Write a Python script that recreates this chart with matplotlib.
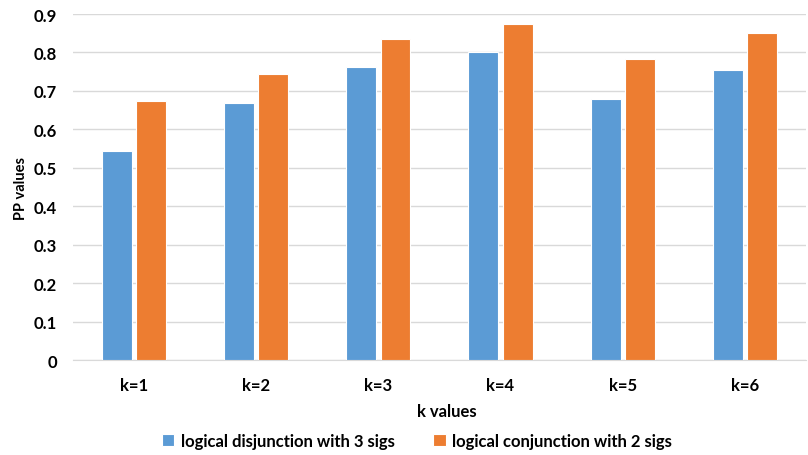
import matplotlib
matplotlib.use("Agg")
import matplotlib.pyplot as plt
import numpy as np

categories = ["k=1", "k=2", "k=3", "k=4", "k=5", "k=6"]
disjunction_3 = [0.545, 0.669, 0.763, 0.802, 0.680, 0.755]
conjunction_2 = [0.675, 0.745, 0.834, 0.875, 0.784, 0.850]
series_names = ["logical disjunction with 3 sigs", "logical conjunction with 2 sigs"]
y_ticks = [0, 0.1, 0.2, 0.3, 0.4, 0.5, 0.6, 0.7, 0.8, 0.9]

plt.rcParams['font.family'] = ['Lato', 'DejaVu Sans']
plt.rcParams['font.weight'] = 'bold'

fig = plt.figure(figsize=(8.08, 4.56), dpi=100)
ax = fig.add_axes([0.0903, 0.2083, 0.9072, 0.7587])

x = np.arange(len(categories))
w = 0.245
off = 0.14
ax.bar(x - off, disjunction_3, w, color="#5B9BD5", edgecolor="white", linewidth=0.8,
       label=series_names[0], zorder=3)
ax.bar(x + off, conjunction_2, w, color="#ED7D31", edgecolor="white", linewidth=0.8,
       label=series_names[1], zorder=3)

ax.set_xlim(-0.5, len(categories) - 0.5)
ax.set_ylim(0, 0.9)
ax.set_yticks(y_ticks)
ax.set_yticklabels([f"{v:g}" for v in y_ticks])
ax.set_xticks(x)
ax.set_xticklabels(categories)
ax.grid(axis="y", color="#D9D9D9", linewidth=1, zorder=0)
for s in ["top", "right", "left"]:
    ax.spines[s].set_visible(False)
ax.spines["bottom"].set_color("#D9D9D9")
ax.tick_params(axis="both", length=0, labelsize=12, colors="#000000")
ax.tick_params(axis="y", pad=11.5)
ax.tick_params(axis="x", pad=12)
for lab in ax.get_xticklabels() + ax.get_yticklabels():
    lab.set_fontweight("bold")

ax.set_ylabel("PP values", fontsize=10.5, fontweight="bold")
ax.yaxis.set_label_coords(-0.061, 0.5)
ax.set_xlabel("k values", fontsize=12, fontweight="bold")
ax.xaxis.set_label_coords(0.51, -0.125)

fig.legend(loc="center", bbox_to_anchor=(0.516, 0.031), ncol=2, frameon=False,
           handlelength=0.75, handleheight=0.75, handletextpad=0.4,
           columnspacing=2.3, prop={"weight": "bold", "size": 12})

fig.savefig("out.png", dpi=100)
